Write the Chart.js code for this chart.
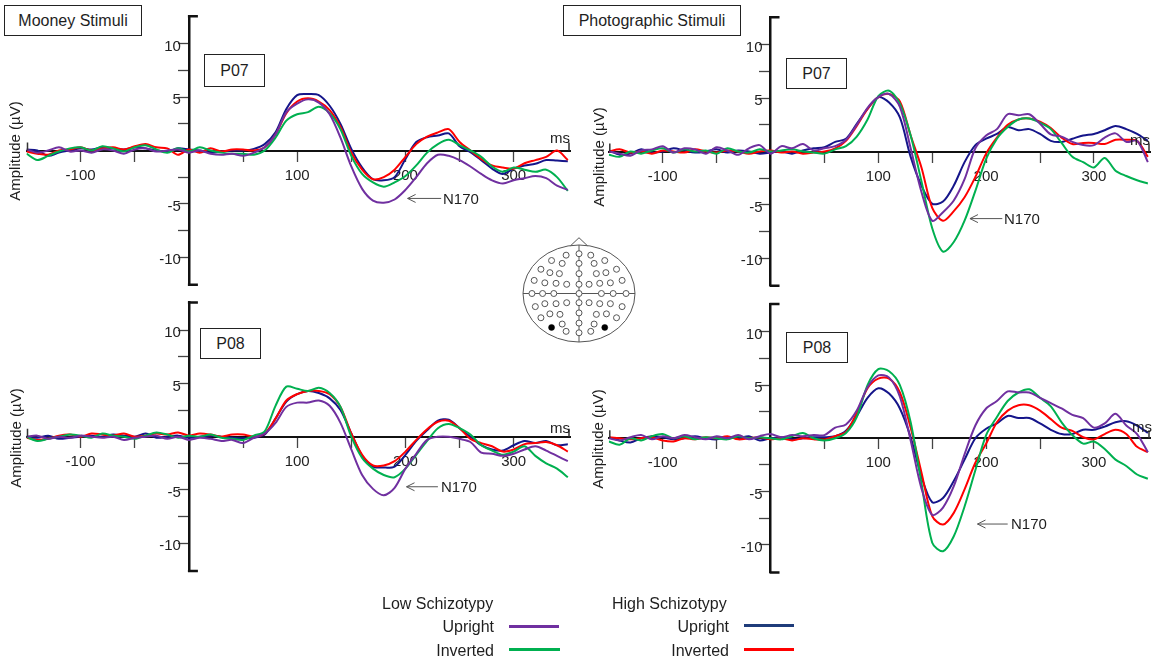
<!DOCTYPE html>
<html><head><meta charset="utf-8">
<script src="https://cdn.jsdelivr.net/npm/chart.js@4.4.0/dist/chart.umd.min.js"></script>
<style>
body{margin:0;background:#fff;width:1158px;height:662px;overflow:hidden;position:relative;font-family:"Liberation Sans",Arial,sans-serif;color:#1e1e1e}
canvas{position:absolute;left:0;top:0}
.box{position:absolute;border:1.5px solid #222;box-sizing:border-box;display:flex;align-items:center;justify-content:center;font-size:16px;background:#fff;z-index:5}
.t{position:absolute;white-space:nowrap;font-size:15px;line-height:16px;transform:translateY(-50%);z-index:5}
.tr{position:absolute;white-space:nowrap;font-size:16px;line-height:16px;transform:translate(-100%,-50%);z-index:5}
.ytitle{position:absolute;transform:translate(-50%,-50%) rotate(-90deg);font-size:15px;white-space:nowrap;z-index:5}
.lg{position:absolute;height:3px;z-index:5}
</style></head><body>
<canvas id="tl"></canvas><canvas id="tr"></canvas><canvas id="bl"></canvas><canvas id="br"></canvas>
<canvas id="head" style="left:500px;top:230px"></canvas>

<div class="box" style="left:4px;top:5px;width:138px;height:31px">Mooney Stimuli</div>
<div class="box" style="left:563px;top:5px;width:178px;height:31px">Photographic Stimuli</div>
<div class="box" style="left:204px;top:54px;width:61px;height:33px">P07</div>
<div class="box" style="left:786px;top:58px;width:61px;height:31px">P07</div>
<div class="box" style="left:200px;top:328px;width:61px;height:31px">P08</div>
<div class="box" style="left:786px;top:332px;width:62px;height:31px">P08</div>

<div class="ytitle" style="left:14px;top:151px">Amplitude (µV)</div>
<div class="ytitle" style="left:15px;top:438px">Amplitude (µV)</div>
<div class="ytitle" style="left:598px;top:157px">Amplitude (µV)</div>
<div class="ytitle" style="left:597px;top:439px">Amplitude (µV)</div>

<div class="t" style="left:550px;top:138px">ms</div>
<div class="t" style="left:1130px;top:140px">ms</div>
<div class="t" style="left:550px;top:428px">ms</div>
<div class="t" style="left:1132px;top:427px">ms</div>

<div class="t" style="left:443px;top:199px">N170</div>
<div class="t" style="left:1004px;top:219px">N170</div>
<div class="t" style="left:441px;top:487px">N170</div>
<div class="t" style="left:1011px;top:524px">N170</div>

<div class="t" style="left:382px;top:604px;font-size:16px">Low Schizotypy</div>
<div class="tr" style="left:494px;top:627px">Upright</div>
<div class="tr" style="left:494px;top:651px">Inverted</div>
<div class="lg" id="lgLowUp" style="left:509px;top:625px;width:50px"></div>
<div class="lg" id="lgLowInv" style="left:509px;top:648px;width:51px"></div>
<div class="t" style="left:612px;top:604px;font-size:16px">High Schizotypy</div>
<div class="tr" style="left:729px;top:627px">Upright</div>
<div class="tr" style="left:729px;top:651px">Inverted</div>
<div class="lg" id="lgHighUp" style="left:744px;top:624px;width:50px"></div>
<div class="lg" id="lgHighInv" style="left:744px;top:648px;width:50px"></div>

<script>
// ---------- data ----------
const timesMs = [-150,-140,-130,-120,-110,-100,-90,-80,-70,-60,-50,-40,-30,-20,-10,0,10,20,30,40,50,60,70,80,90,100,110,120,130,140,150,160,170,180,190,200,210,220,230,240,250,260,270,280,290,300,310,320,330,340,350];

// Mooney P07
const mooneyP07LowUpright = [0.1,-0.2,0.0,0.3,-0.1,0.0,-0.2,0.1,0.0,-0.3,0.1,0.2,-0.1,0.0,0.1,-0.2,0.0,-0.3,-0.4,-0.3,-0.5,-0.2,0.3,1.5,3.6,4.4,4.8,4.5,3.4,1.2,-1.5,-3.6,-4.7,-4.9,-4.6,-3.7,-2.5,-1.2,-0.4,-0.5,-0.9,-1.5,-2.2,-2.8,-3.1,-2.8,-2.6,-2.4,-2.6,-3.3,-3.7];
const mooneyP07LowInverted = [-0.3,-0.9,-0.5,-0.1,0.2,0.3,0.0,0.4,0.2,-0.1,0.3,0.5,0.1,-0.2,0.2,-0.1,0.3,0.0,-0.2,-0.3,-0.3,-0.4,0.0,1.2,2.8,3.4,3.6,4.1,3.5,2.0,-0.5,-2.2,-3.0,-3.4,-3.0,-2.4,-1.4,-0.2,0.6,1.0,0.5,0.0,-0.6,-1.5,-2.0,-1.6,-1.8,-2.0,-1.8,-2.5,-3.8];
const mooneyP07HighUpright = [0.1,0.0,-0.5,-0.2,0.0,0.2,0.1,0.3,0.2,0.1,0.3,0.2,0.0,-0.1,0.2,0.1,0.0,-0.2,-0.1,0.0,0.0,0.15,0.6,1.7,3.9,5.2,5.3,5.2,4.2,2.5,0.15,-1.6,-2.7,-2.8,-2.5,-0.8,0.8,1.25,1.4,1.6,0.4,-0.15,-0.9,-1.7,-2.2,-1.7,-1.4,-1.25,-0.9,-0.95,-1.0];
const mooneyP07HighInverted = [-0.1,-0.3,-0.4,0.0,0.1,0.3,0.0,0.2,0.3,0.1,0.4,0.6,0.3,0.2,-0.4,0.1,-0.2,0.2,-0.1,0.1,0.1,0.0,0.3,1.5,3.5,4.6,4.9,4.6,3.8,2.2,-0.2,-1.8,-2.7,-2.5,-1.8,-0.6,0.6,1.3,1.7,2.0,0.8,0.0,-0.8,-1.4,-1.6,-1.7,-1.2,-0.9,-0.6,0.0,-0.9];

// Photographic P07
const photoP07LowUpright = [0.0,-0.2,-0.4,0.1,0.2,0.5,-0.1,0.3,0.2,-0.2,0.4,0.1,-0.3,0.3,0.6,-0.2,0.5,0.3,0.7,0.1,0.3,0.5,1.1,2.5,4.1,5.1,5.4,4.2,0.3,-3.8,-6.5,-5.7,-4.6,-2.6,0.3,1.5,2.1,3.5,3.4,3.5,2.6,1.6,1.4,0.9,0.6,0.6,1.3,1.7,0.9,1.0,-1.0];
const photoP07LowInverted = [-0.3,-0.5,0.0,-0.2,0.1,0.3,-0.1,0.2,0.0,0.1,-0.2,0.3,0.0,-0.1,0.2,0.0,0.1,0.2,0.0,-0.1,-0.2,0.2,0.5,1.4,3.0,5.2,5.7,4.5,1.5,-2.8,-7.2,-9.4,-8.5,-6.5,-3.7,-0.7,1.2,2.3,3.0,3.1,2.7,2.1,0.8,-0.5,-1.0,-1.5,-0.6,-1.8,-2.3,-2.7,-3.0];
const photoP07HighUpright = [0.1,-0.3,-0.2,0.2,-0.1,0.0,0.3,0.1,-0.1,0.0,0.2,-0.1,0.1,0.0,-0.2,-0.1,0.0,-0.2,0.1,0.3,0.4,0.9,1.2,2.6,4.0,5.1,4.6,3.2,-0.5,-3.2,-4.9,-4.7,-3.2,-1.0,0.6,1.2,1.65,2.3,2.0,2.1,1.65,1.0,0.9,1.2,1.5,1.65,2.0,2.4,2.1,1.65,1.0];
const photoP07HighInverted = [0.0,0.2,-0.1,0.0,-0.2,0.1,0.0,-0.1,0.2,0.0,-0.1,0.1,0.0,-0.2,0.0,0.1,-0.1,0.0,-0.2,-0.1,0.0,0.3,1.0,2.4,4.0,5.1,5.4,4.7,1.5,-1.5,-5.3,-6.5,-5.6,-4.3,-2.4,-0.2,1.3,2.5,3.0,3.1,2.8,2.2,1.3,0.7,0.8,0.8,0.7,1.1,1.1,1.0,-0.5];

// Mooney P08
const mooneyP08LowUpright = [0.0,0.1,-0.2,0.0,-0.1,0.1,0.0,-0.1,0.0,-0.3,-0.1,0.0,0.1,-0.2,0.0,-0.3,-0.1,-0.2,-0.4,-0.3,-0.6,-0.1,0.3,1.3,2.8,3.2,3.2,3.4,2.9,1.3,-1.2,-3.6,-4.9,-5.5,-4.8,-3.0,-1.6,-0.3,0.0,0.0,-0.2,-0.5,-1.5,-1.6,-1.8,-1.6,-1.2,-0.9,-1.3,-1.8,-2.3];
const mooneyP08LowInverted = [0.0,-0.4,-0.2,0.0,0.2,0.1,-0.1,0.3,0.1,0.0,-0.2,0.1,0.4,0.2,-0.1,0.1,0.0,0.2,-0.1,-0.2,-0.3,0.1,0.5,2.9,4.7,4.5,4.3,4.6,4.1,2.8,0.0,-2.0,-3.0,-3.6,-3.8,-3.0,-1.7,-0.4,0.8,1.2,0.8,0.2,-0.8,-1.3,-1.7,-1.4,-0.9,-1.8,-2.5,-3.0,-3.8];
const mooneyP08HighUpright = [0.0,-0.1,0.1,-0.2,-0.1,0.0,0.1,0.0,0.2,0.1,0.0,0.3,-0.1,0.0,0.1,-0.1,0.0,0.1,0.0,-0.1,-0.15,-0.1,0.2,1.7,3.3,4.0,4.3,4.1,3.6,2.5,0.3,-1.8,-2.8,-2.9,-2.8,-1.7,-0.4,0.6,1.5,1.6,0.8,0.0,-0.8,-1.2,-1.3,-0.8,-0.4,-0.6,-0.4,-0.8,-0.7];
const mooneyP08HighInverted = [-0.1,-0.3,-0.2,0.1,0.2,0.0,0.3,0.2,0.1,0.3,0.0,0.1,0.3,0.2,0.4,0.1,0.3,0.2,0.0,0.2,0.2,0.0,0.3,1.7,3.4,4.0,4.3,4.3,4.0,2.8,0.3,-1.7,-2.7,-2.7,-2.3,-1.4,-0.3,0.7,1.4,1.5,0.8,-0.2,-0.6,-0.9,-1.4,-1.2,-0.7,-0.6,-0.5,-0.8,-1.4];

// Photographic P08
const photoP08LowUpright = [0.0,-0.2,0.1,0.3,-0.1,0.2,0.0,0.3,0.1,-0.1,0.2,0.0,0.3,-0.1,0.2,0.4,0.1,0.3,0.2,0.3,0.3,1.0,1.3,2.6,4.8,5.9,5.7,3.9,-0.2,-4.7,-7.2,-6.5,-4.5,-1.5,1.2,2.8,3.5,4.4,4.3,4.3,3.8,3.3,2.8,2.2,1.9,1.0,1.4,2.3,1.2,0.4,-1.3];
const photoP08LowInverted = [-0.3,-0.6,0.0,-0.2,0.2,0.4,0.0,0.2,-0.1,0.1,0.0,-0.1,0.2,0.0,0.1,0.0,-0.1,0.2,0.5,0.0,-0.2,0.0,0.5,2.0,5.0,6.5,6.3,5.0,1.5,-4.2,-9.8,-10.6,-9.2,-6.4,-3.0,0.3,2.0,3.5,4.3,4.6,3.8,3.0,1.5,0.3,-0.5,-0.3,-1.0,-2.0,-2.6,-3.4,-3.8];
const photoP08HighUpright = [0.1,-0.2,-0.4,0.0,0.2,0.1,-0.1,0.0,0.2,0.0,-0.1,0.1,0.0,0.2,-0.2,0.0,0.1,-0.1,0.0,0.1,0.1,0.2,0.7,2.1,3.8,4.7,4.2,2.8,0.1,-3.6,-6.0,-5.6,-4.0,-2.0,0.0,0.9,1.4,2.1,1.9,1.9,1.4,0.8,0.4,0.4,0.8,0.8,1.1,1.5,1.6,1.2,0.5];
const photoP08HighInverted = [0.1,0.0,-0.1,0.0,0.1,-0.2,-0.3,0.0,-0.1,0.1,0.0,0.2,-0.1,0.0,0.1,-0.1,0.0,-0.2,0.0,-0.1,-0.1,0.2,0.6,2.4,4.7,5.6,5.6,4.3,1.0,-3.2,-7.3,-8.1,-7.0,-4.8,-2.3,-0.5,1.5,2.6,3.1,3.1,2.6,1.8,1.0,0.7,0.1,-0.1,0.4,0.8,0.4,-0.8,-1.3];

const xTickValues = [-100,-50,50,100,150,200,250,300];
const xTickLabels = [-100,100,200,300];
const yTickValues = [-10,-7.5,-5,-2.5,2.5,5,7.5,10];
const yTickLabels = [-10,-5,5,10];

// head electrode layout (normalised)
const electrodeX = [-0.49,-0.23,0,0.21,0.46,-0.68,0.67,-0.30,0,0.27,-0.52,-0.35,0,0.31,0.48,-0.80,0.77,-0.61,-0.41,-0.22,0,0.18,0.37,0.56,-0.84,-0.65,-0.45,0,0.40,0.61,0.84,-0.61,-0.41,-0.22,0,0.18,0.37,0.56,-0.78,0.77,-0.52,-0.34,0,0.31,0.49,-0.68,0.67,-0.30,0,0.27,-0.23,0,0.21];
const electrodeY = [0.68,0.79,0.82,0.79,0.68,0.50,0.50,0.62,0.62,0.62,0.43,0.41,0.41,0.41,0.43,0.27,0.27,0.22,0.21,0.19,0.19,0.19,0.21,0.22,0,0,0,0,0,0,0,-0.21,-0.21,-0.19,-0.19,-0.19,-0.21,-0.21,-0.27,-0.27,-0.42,-0.43,-0.40,-0.43,-0.42,-0.50,-0.50,-0.63,-0.61,-0.63,-0.78,-0.81,-0.78];
const markedX = [-0.49,0.46];
const markedY = [-0.70,-0.70];

// ---------- styling ----------
const C = { lowUp:'#7030A0', lowInv:'#00B050', highUp:'#15158A', highInv:'#FF0000' };
document.getElementById('lgLowUp').style.background = C.lowUp;
document.getElementById('lgLowInv').style.background = C.lowInv;
document.getElementById('lgHighUp').style.background = '#1F3C7A';
document.getElementById('lgHighInv').style.background = C.highInv;

const W = 1158, H = 662;
const axisDecor = {
  id: 'axisDecor',
  afterDraw(chart, args, opts) {
    const {ctx} = chart; const xs = chart.scales.x, ys = chart.scales.y;
    const x0 = xs.getPixelForValue(0), y0 = ys.getPixelForValue(0);
    const top = ys.getPixelForValue(ys.max), bot = ys.getPixelForValue(ys.min);
    const left = xs.getPixelForValue(xs.min), right = xs.getPixelForValue(xs.max);
    ctx.save();
    ctx.strokeStyle = '#111'; ctx.lineWidth = 2.5;
    ctx.beginPath();
    ctx.moveTo(x0 - 1, top); ctx.lineTo(x0 + 9, top);
    ctx.moveTo(x0 - 1, bot); ctx.lineTo(x0 + 9, bot);
    ctx.stroke();
    ctx.lineWidth = 1.5; ctx.strokeStyle = '#333';
    ctx.beginPath();
    ctx.moveTo(left + 1, y0); ctx.lineTo(left + 1, y0 - 8);
    ctx.moveTo(right - 1, y0); ctx.lineTo(right - 1, y0 - 8);
    ctx.stroke();
    // y tick labels, placed just left of the tick marks
    ctx.fillStyle = '#222'; ctx.font = '15px "Liberation Sans", Arial, sans-serif';
    ctx.textAlign = 'right'; ctx.textBaseline = 'middle';
    yTickLabels.forEach(v => ctx.fillText(String(v), x0 - 8, ys.getPixelForValue(v) + 3));
    const a = opts.arrow;
    if (a) {
      const hx = xs.getPixelForValue(a.head), tx = xs.getPixelForValue(a.tail), ay = ys.getPixelForValue(a.y);
      ctx.strokeStyle = '#555'; ctx.lineWidth = 1;
      ctx.beginPath();
      ctx.moveTo(tx, ay); ctx.lineTo(hx, ay);
      ctx.moveTo(hx + 8, ay - 4); ctx.lineTo(hx, ay); ctx.lineTo(hx + 8, ay + 4);
      ctx.stroke();
    }
    ctx.restore();
  }
};

function makePanel(id, area, series, arrow) {
  const cv = document.getElementById(id);
  cv.width = W; cv.height = H;
  const tickFont = {family:'Liberation Sans', size:15};
  return new Chart(cv, {
    type: 'line',
    data: { datasets: series.map(s => ({
      data: timesMs.map((t, i) => ({x: t, y: s.values[i]})),
      borderColor: s.color, borderWidth: 2, pointRadius: 0, tension: 0.3, fill: false
    })) },
    options: {
      responsive: false, animation: false, events: [],
      layout: { padding: { left: area.left, right: W - area.right, top: area.top, bottom: H - area.bottom } },
      plugins: { legend: {display:false}, tooltip: {enabled:false}, axisDecor: {arrow} },
      scales: {
        x: {
          type: 'linear', min: -150, max: 352, position: {y: 0},
          afterFit: s => { s.height = 0; },
          afterBuildTicks: s => { s.ticks = xTickValues.map(v => ({value: v})); },
          ticks: { autoSkip: false, maxRotation: 0, padding: 6, color: '#222', font: tickFont,
                   callback: v => xTickLabels.includes(v) ? String(v) : '' },
          grid: { drawOnChartArea: false, drawTicks: true, tickLength: 10, tickWidth: 1.3, tickColor: '#444' },
          border: { display: true, color: '#111', width: 2 }
        },
        y: {
          type: 'linear', min: -12.6, max: 12.6, position: {x: 0},
          afterFit: s => { s.width = 0; },
          afterBuildTicks: s => { s.ticks = yTickValues.map(v => ({value: v})); },
          ticks: { display: false },
          grid: { drawOnChartArea: false, drawTicks: true, tickLength: 10, tickWidth: 1.3, tickColor: '#444' },
          border: { display: true, color: '#111', width: 2.5 }
        }
      }
    },
    plugins: [axisDecor]
  });
}

const order = (lu, li, hu, hi) => [
  {values: lu, color: C.lowUp}, {values: li, color: C.lowInv},
  {values: hi, color: C.highInv}, {values: hu, color: C.highUp}
];

makePanel('tl', {left: 26.5, right: 570, top: 16.3, bottom: 284.7},
  order(mooneyP07LowUpright, mooneyP07LowInverted, mooneyP07HighUpright, mooneyP07HighInverted),
  {head: 202, tail: 233, y: -4.5});
makePanel('tr', {left: 608.8, right: 1150, top: 17.3, bottom: 285.7},
  order(photoP07LowUpright, photoP07LowInverted, photoP07HighUpright, photoP07HighInverted),
  {head: 185, tail: 215, y: -6.3});
makePanel('bl', {left: 26.5, right: 570, top: 302.5, bottom: 570.9},
  order(mooneyP08LowUpright, mooneyP08LowInverted, mooneyP08HighUpright, mooneyP08HighInverted),
  {head: 201, tail: 230, y: -4.7});
makePanel('br', {left: 608.8, right: 1150, top: 304.1, bottom: 572.5},
  order(photoP08LowUpright, photoP08LowInverted, photoP08HighUpright, photoP08HighInverted),
  {head: 192, tail: 220, y: -8.05});

// head map
const headOutline = {
  id: 'headOutline',
  beforeDatasetsDraw(chart) {
    const {ctx} = chart; const xs = chart.scales.x, ys = chart.scales.y;
    const cx = xs.getPixelForValue(0), cy = ys.getPixelForValue(0);
    const rx = xs.getPixelForValue(1) - cx, ry = cy - ys.getPixelForValue(1);
    ctx.save(); ctx.strokeStyle = '#555'; ctx.lineWidth = 1;
    ctx.beginPath(); ctx.ellipse(cx, cy, rx, ry, 0, 0, Math.PI * 2); ctx.stroke();
    ctx.beginPath();
    ctx.moveTo(xs.getPixelForValue(-1), cy); ctx.lineTo(xs.getPixelForValue(1), cy);
    ctx.moveTo(cx, ys.getPixelForValue(1)); ctx.lineTo(cx, ys.getPixelForValue(-1));
    ctx.stroke();
    ctx.beginPath();
    ctx.moveTo(xs.getPixelForValue(-0.15), ys.getPixelForValue(0.985));
    ctx.lineTo(cx, ys.getPixelForValue(1.15));
    ctx.lineTo(xs.getPixelForValue(0.15), ys.getPixelForValue(0.985));
    ctx.stroke();
    ctx.restore();
  }
};
const hc = document.getElementById('head'); hc.width = 160; hc.height = 120;
new Chart(hc, {
  type: 'scatter',
  data: { datasets: [
    { data: electrodeX.map((x, i) => ({x, y: electrodeY[i]})), pointRadius: 3, pointBackgroundColor: '#fff', pointBorderColor: '#555', pointBorderWidth: 1 },
    { data: markedX.map((x, i) => ({x, y: markedY[i]})), pointRadius: 3, pointBackgroundColor: '#000', pointBorderColor: '#000', pointBorderWidth: 0.5 }
  ] },
  options: {
    responsive: false, animation: false, events: [],
    layout: { padding: { left: 23, right: 25, top: 15, bottom: 8 } },
    plugins: { legend: {display: false}, tooltip: {enabled: false} },
    scales: { x: {type: 'linear', min: -1, max: 1, display: false}, y: {type: 'linear', min: -1, max: 1, display: false} }
  },
  plugins: [headOutline]
});
</script>
</body></html>
